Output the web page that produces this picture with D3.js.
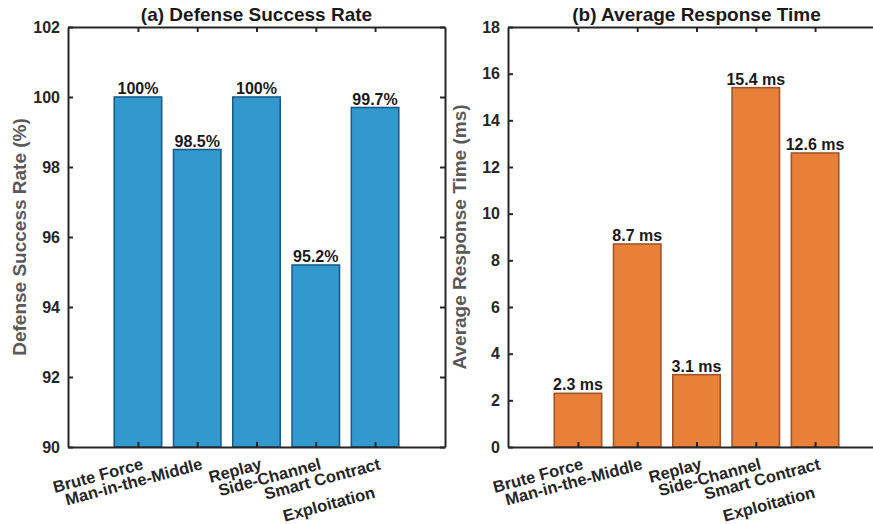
<!DOCTYPE html>
<html>
<head>
<meta charset="utf-8">
<script src="https://cdn.jsdelivr.net/npm/d3@7"></script>
<style>
  body { margin: 0; background: #fff; }
  text { font-family: "Liberation Sans", Arial, Helvetica, sans-serif; font-weight: bold; }
</style>
</head>
<body>
<div class="canvas"></div>
<script>
// data
const attacks = [['Brute Force'], ['Man-in-the-Middle'], ['Replay'], ['Side-Channel'], ['Smart Contract', 'Exploitation']]
const successRate = [100, 98.5, 100, 95.2, 99.7]
const responseTime = [2.3, 8.7, 3.1, 15.4, 12.6]
const rateTicks = [90, 92, 94, 96, 98, 100, 102]
const timeTicks = [0, 2, 4, 6, 8, 10, 12, 14, 16, 18]

const width = 873, height = 524
const axisColor = '#262626'

const svg = d3.select('.canvas')
    .append('svg')
    .attr('width', width)
    .attr('height', height)

const drawPanel = (opts) => {
    const { left, top, w, h, values, yDomain, ticks, title, ylabel, fill, stroke, fmt } = opts

    const g = svg.append('g').attr('transform', `translate(${left}, ${top})`)

    const xScale = d3.scaleLinear().domain([-0.18, 6.18]).range([0, w])
    const yScale = d3.scaleLinear().domain(yDomain).range([h, 0])
    const bw = xScale(0.8) - xScale(0)

    // bars
    g.selectAll('rect.bar')
        .data(values)
        .enter()
        .append('rect')
            .attr('class', 'bar')
            .attr('x', (d, i) => xScale(i + 1) - bw / 2)
            .attr('y', d => yScale(d))
            .attr('width', bw)
            .attr('height', d => h - yScale(d))
            .attr('fill', fill)
            .attr('stroke', stroke)
            .attr('stroke-width', 1.6)

    // value labels
    g.selectAll('text.val')
        .data(values)
        .enter()
        .append('text')
            .attr('class', 'val')
            .attr('x', (d, i) => xScale(i + 1))
            .attr('y', d => yScale(d) - 3)
            .attr('text-anchor', 'middle')
            .attr('font-size', 16)
            .attr('fill', '#1a1a1a')
            .text(fmt)

    // axes (box, ticks inward on all sides)
    const yAxisL = d3.axisLeft(yScale).tickValues(ticks).tickSizeInner(-5).tickSizeOuter(0).tickPadding(8)
    const yAxisR = d3.axisRight(yScale).tickValues(ticks).tickSizeInner(-5).tickSizeOuter(0).tickFormat('')
    const xTicks = values.map((d, i) => i + 1)
    const xAxisB = d3.axisBottom(xScale).tickValues(xTicks).tickSizeInner(-5).tickSizeOuter(0).tickFormat('')
    const xAxisT = d3.axisTop(xScale).tickValues(xTicks).tickSizeInner(-5).tickSizeOuter(0).tickFormat('')

    const gl = g.append('g').call(yAxisL)
    g.append('g').attr('transform', `translate(${w}, 0)`).call(yAxisR)
    g.append('g').attr('transform', `translate(0, ${h})`).call(xAxisB)
    g.append('g').call(xAxisT)

    g.selectAll('.domain').attr('stroke', axisColor).attr('stroke-width', 2)
    g.selectAll('.tick line').attr('stroke', axisColor).attr('stroke-width', 2)
    gl.selectAll('.tick text')
        .attr('font-size', 16)
        .attr('fill', axisColor)
        .attr('font-family', '"Liberation Sans", Arial, sans-serif')
        .attr('font-weight', 'bold')

    // rotated category labels
    attacks.forEach((lines, i) => {
        const lg = g.append('g')
            .attr('transform', `translate(${xScale(i + 1) + 3}, ${h + 10}) rotate(-15)`)
        const texts = lines.map((t, j) => lg.append('text')
            .attr('font-size', 16.5)
            .attr('fill', axisColor)
            .attr('dy', '0.75em')
            .attr('y', j * 26)
            .text(t))
        const lens = texts.map(t => t.node().getComputedTextLength())
        const maxLen = d3.max(lens)
        texts.forEach(t => t.attr('x', -maxLen / 2).attr('text-anchor', 'middle'))
    })

    // title
    svg.append('text')
        .attr('x', left + w / 2)
        .attr('y', top - 6)
        .attr('text-anchor', 'middle')
        .attr('font-size', 19)
        .attr('fill', '#1a1a1a')
        .text(title)

    // y label
    svg.append('text')
        .attr('transform', `translate(${left - 42}, ${top + h / 2}) rotate(-90)`)
        .attr('text-anchor', 'middle')
        .attr('font-size', 19)
        .attr('fill', '#595959')
        .text(ylabel)
}

drawPanel({
    left: 68, top: 27, w: 377, h: 420,
    values: successRate, yDomain: [90, 102], ticks: rateTicks,
    title: '(a) Defense Success Rate', ylabel: 'Defense Success Rate (%)',
    fill: '#3299cf', stroke: '#1d5a8c',
    fmt: d => d + '%'
})

drawPanel({
    left: 508, top: 27, w: 377, h: 420,
    values: responseTime, yDomain: [0, 18], ticks: timeTicks,
    title: '(b) Average Response Time', ylabel: 'Average Response Time (ms)',
    fill: '#e8803a', stroke: '#a3552a',
    fmt: d => d.toFixed(1) + ' ms'
})
</script>
</body>
</html>
